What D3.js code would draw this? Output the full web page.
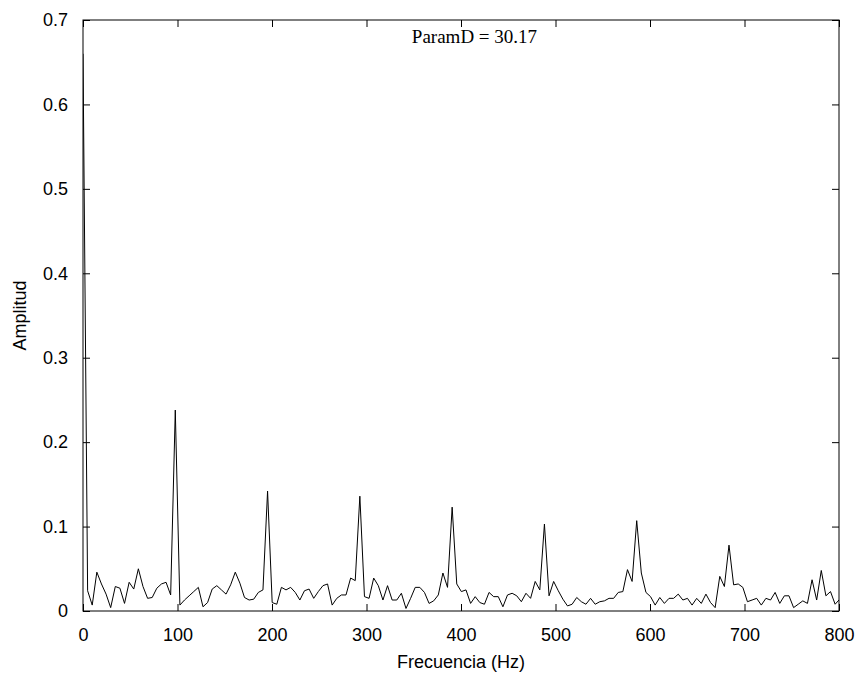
<!DOCTYPE html>
<html>
<head>
<meta charset="utf-8">
<script src="https://cdn.jsdelivr.net/npm/d3@7"></script>
<style>
  html, body { margin: 0; padding: 0; background: #fff; overflow: hidden; }
  svg { display: block; }
  text { fill: #000; }
</style>
</head>
<body>
<div id="spectrum"></div>
<script>
// FFT bin width (Hz) and the amplitude of each bin
const binHz = 4.8828125;
const amplitudes = [
  0.66, 0.024, 0.007, 0.046, 0.032, 0.020, 0.004, 0.029, 0.027, 0.009,
  0.034, 0.026, 0.050, 0.029, 0.015, 0.016, 0.027, 0.032, 0.034, 0.019,
  0.238, 0.007, 0.013, 0.018, 0.023, 0.028, 0.005, 0.010, 0.026, 0.030,
  0.025, 0.020, 0.031, 0.046, 0.033, 0.016, 0.013, 0.014, 0.022, 0.025,
  0.142, 0.010, 0.008, 0.028, 0.025, 0.028, 0.022, 0.013, 0.024, 0.026,
  0.015, 0.023, 0.030, 0.032, 0.007, 0.015, 0.019, 0.019, 0.039, 0.036,
  0.136, 0.017, 0.015, 0.039, 0.030, 0.013, 0.030, 0.013, 0.013, 0.021,
  0.003, 0.015, 0.028, 0.028, 0.022, 0.009, 0.012, 0.019, 0.045, 0.028,
  0.123, 0.032, 0.023, 0.025, 0.009, 0.017, 0.010, 0.008, 0.022, 0.017,
  0.017, 0.005, 0.019, 0.021, 0.018, 0.011, 0.021, 0.015, 0.035, 0.025,
  0.103, 0.018, 0.035, 0.024, 0.014, 0.006, 0.008, 0.016, 0.011, 0.008,
  0.015, 0.008, 0.011, 0.012, 0.015, 0.015, 0.022, 0.023, 0.049, 0.035,
  0.107, 0.045, 0.022, 0.017, 0.007, 0.016, 0.009, 0.015, 0.015, 0.020,
  0.013, 0.015, 0.007, 0.015, 0.009, 0.020, 0.010, 0.004, 0.041, 0.029,
  0.078, 0.031, 0.032, 0.028, 0.011, 0.013, 0.015, 0.007, 0.015, 0.013,
  0.022, 0.009, 0.018, 0.018, 0.004, 0.008, 0.012, 0.009, 0.037, 0.013,
  0.048, 0.018, 0.023, 0.008, 0.014
];

const xTicks = [0, 100, 200, 300, 400, 500, 600, 700, 800];
const yTicks = [0, 0.1, 0.2, 0.3, 0.4, 0.5, 0.6, 0.7];
const yTickLabels = ["0", "0.1", "0.2", "0.3", "0.4", "0.5", "0.6", "0.7"];
const titleText = "ParamD = 30.17";

const width = 862,
    height = 675,
    margin = { top: 20, right: 23, bottom: 64, left: 83 };

const innerWidth = width - margin.left - margin.right,
    innerHeight = height - margin.top - margin.bottom;

const svg = d3.select("#spectrum")
  .append("svg")
  .attr("width", width)
  .attr("height", height)
  .append("g")
  .attr("transform", `translate(${margin.left}, ${margin.top})`);

const xScale = d3.scaleLinear().domain([0, 800]).range([0, innerWidth]);
const yScale = d3.scaleLinear().domain([0, 0.7]).range([innerHeight, 0]);

// clip so the last bin past 800 Hz stays inside the box
svg.append("clipPath").attr("id", "plot-clip")
  .append("rect")
  .attr("width", innerWidth)
  .attr("height", innerHeight);

const line = d3.line()
  .x((d, i) => xScale(i * binHz))
  .y(d => yScale(d));

svg.append("path")
  .datum(amplitudes)
  .attr("clip-path", "url(#plot-clip)")
  .attr("fill", "none")
  .attr("stroke", "#000")
  .attr("stroke-width", 1)
  .attr("d", line);

// axes, MATLAB style: ticks inward on all four sides
const tickLen = 7;
const fontAxis = "'Liberation Sans', Arial, sans-serif";

svg.append("g")
  .attr("transform", `translate(0, ${innerHeight})`)
  .call(d3.axisBottom(xScale).tickValues(xTicks).tickSize(-tickLen).tickPadding(tickLen + 10).tickFormat(d3.format("d")))
  .call(g => g.select(".domain").remove())
  .selectAll("text")
  .style("font-family", fontAxis)
  .style("font-size", "18px");

// mirrored ticks, no labels
svg.append("g")
  .call(d3.axisTop(xScale).tickValues(xTicks).tickSize(-tickLen).tickFormat(""))
  .call(g => g.select(".domain").remove())
  .call(g => g.selectAll("text").remove());

svg.append("g")
  .call(d3.axisLeft(yScale).tickValues(yTicks).tickSize(-tickLen).tickPadding(tickLen + 8)
    .tickFormat((d, i) => yTickLabels[i]))
  .call(g => g.select(".domain").remove())
  .selectAll("text")
  .style("font-family", fontAxis)
  .style("font-size", "18px");

svg.append("g")
  .attr("transform", `translate(${innerWidth}, 0)`)
  .call(d3.axisRight(yScale).tickValues(yTicks).tickSize(-tickLen).tickFormat(""))
  .call(g => g.select(".domain").remove())
  .call(g => g.selectAll("text").remove());

svg.selectAll(".tick line").attr("stroke", "#000");

// box
svg.append("rect")
  .attr("width", innerWidth)
  .attr("height", innerHeight)
  .attr("fill", "none")
  .attr("stroke", "#000")
  .attr("stroke-width", 1);

// labels
svg.append("text")
  .attr("x", innerWidth / 2)
  .attr("y", innerHeight + 57)
  .style("text-anchor", "middle")
  .style("font-family", fontAxis)
  .style("font-size", "18px")
  .text("Frecuencia (Hz)");

svg.append("text")
  .attr("transform", "rotate(-90)")
  .attr("x", -innerHeight / 2)
  .attr("y", -margin.left + 26)
  .style("text-anchor", "middle")
  .style("font-family", fontAxis)
  .style("font-size", "18px")
  .text("Amplitud");

svg.append("text")
  .attr("x", xScale(348))
  .attr("y", yScale(0.673))
  .style("font-family", "'Liberation Serif', 'Times New Roman', serif")
  .style("font-size", "19px")
  .text(titleText);
</script>
</body>
</html>
